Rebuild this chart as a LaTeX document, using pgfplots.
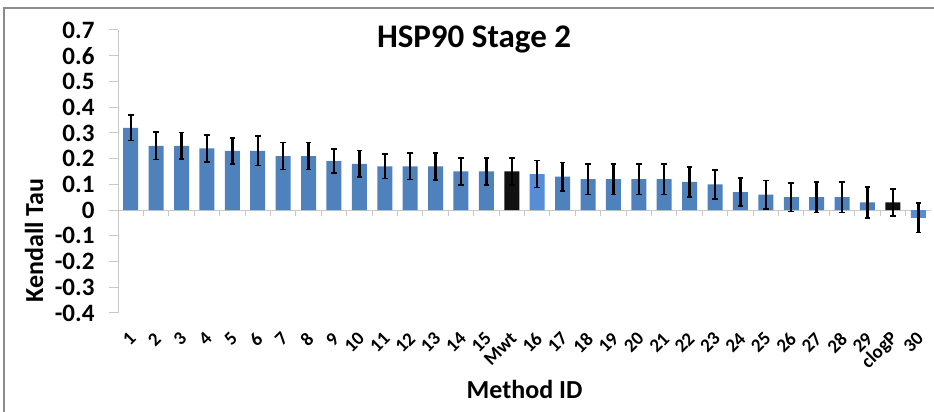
\documentclass[border=0pt]{standalone}
\usepackage{pgfplots}
\pgfplotsset{compat=1.18}
\usepackage{pgfplotstable}
\usepackage{fontspec}
\setmainfont{Carlito}

\definecolor{barblue}{HTML}{4F81BD}
\definecolor{lightblue}{HTML}{558ED5}
\definecolor{barblack}{HTML}{111111}
\definecolor{axisgray}{HTML}{C8C8C8}
\definecolor{framegray}{HTML}{8C8C8C}

% Kendall tau per method (x = position, y = tau, e = error half-width)
\pgfplotstableread{
x  y     e
0  0.32  0.050
1  0.25  0.054
2  0.25  0.052
3  0.24  0.052
4  0.23  0.050
5  0.23  0.057
6  0.21  0.052
7  0.21  0.052
8  0.19  0.047
9  0.18  0.052
10 0.17  0.048
11 0.17  0.051
12 0.17  0.053
13 0.15  0.053
14 0.15  0.053
17 0.13  0.055
18 0.12  0.059
19 0.12  0.059
20 0.12  0.059
21 0.12  0.059
22 0.11  0.058
23 0.10  0.056
24 0.07  0.055
25 0.06  0.055
26 0.05  0.055
27 0.05  0.060
28 0.05  0.060
29 0.03  0.060
}\methods

\pgfplotstableread{
x  y     e
16 0.14  0.052
31 -0.03 0.057
}\highlighted

% reference descriptors
\pgfplotstableread{
x  y     e
15 0.15  0.053
30 0.03  0.053
}\descriptors

\begin{document}
\begin{tikzpicture}[x=1pt,y=1pt]
\useasboundingbox (0,0) rectangle (934,412);
\draw[framegray, line width=1.4pt] (4,0) -- (4,404) -- (934,404);
\begin{axis}[
  at={(118pt,99pt)}, anchor=south west,
  scale only axis, width=813pt, height=283pt,
  xmin=-0.5, xmax=31.5, ymin=-0.4, ymax=0.7,
  axis y line*=left, axis x line*=bottom,
  x axis line style={draw=none},
  y axis line style={axisgray, line width=1pt},
  ytick={-0.4,-0.3,...,0.7},
  yticklabel={\pgfmathprintnumber[fixed,precision=1,assume math mode=true]{\tick}},
  ytick style={axisgray, line width=1pt},
  tick align=outside, major tick length=9pt,
  xtick={0,...,31},
  xticklabels={1,2,3,4,5,6,7,8,9,10,11,12,13,14,15,Mwt,16,17,18,19,20,21,22,23,24,25,26,27,28,29,clogP,30},
  xtick style={draw=none},
  yticklabel style={font=\bfseries\fontsize{25}{28}\selectfont, xshift=-11pt},
  xticklabel style={font=\bfseries\fontsize{19}{22}\selectfont, rotate=45, anchor=east, yshift=-11pt, xshift=-5pt},
  ybar, bar width=15pt, bar shift=0pt,
  clip=false,
  error bars/y dir=both, error bars/y explicit,
  error bars/error bar style={line width=2.4pt, black},
  error bars/error mark options={rotate=90, mark size=2.8pt, line width=1.6pt, black},
]
\draw[axisgray, line width=1pt] (axis cs:-0.5,0) -- (axis cs:31.5,0);
\pgfplotsinvokeforeach{0.5,1.5,...,30.5}{
  \draw[axisgray, line width=1pt] (axis cs:#1,0) -- ([yshift=-6pt]axis cs:#1,0);
}
\addplot[fill=barblue, draw=none] table[x=x, y=y, y error=e] {\methods};
\addplot[fill=lightblue, draw=none] table[x=x, y=y, y error=e] {\highlighted};
\addplot[fill=barblack, draw=none] table[x=x, y=y, y error=e] {\descriptors};
\end{axis}
\node[anchor=base, font=\bfseries\fontsize{33}{38}\selectfont] at (474,364) {HSP90 Stage 2};
\node[anchor=base, font=\bfseries\fontsize{26}{30}\selectfont] at (524.5,13) {Method ID};
\node[anchor=base, rotate=90, font=\bfseries\fontsize{26}{30}\selectfont] at (43,171.5) {Kendall Tau};
\end{tikzpicture}
\end{document}
